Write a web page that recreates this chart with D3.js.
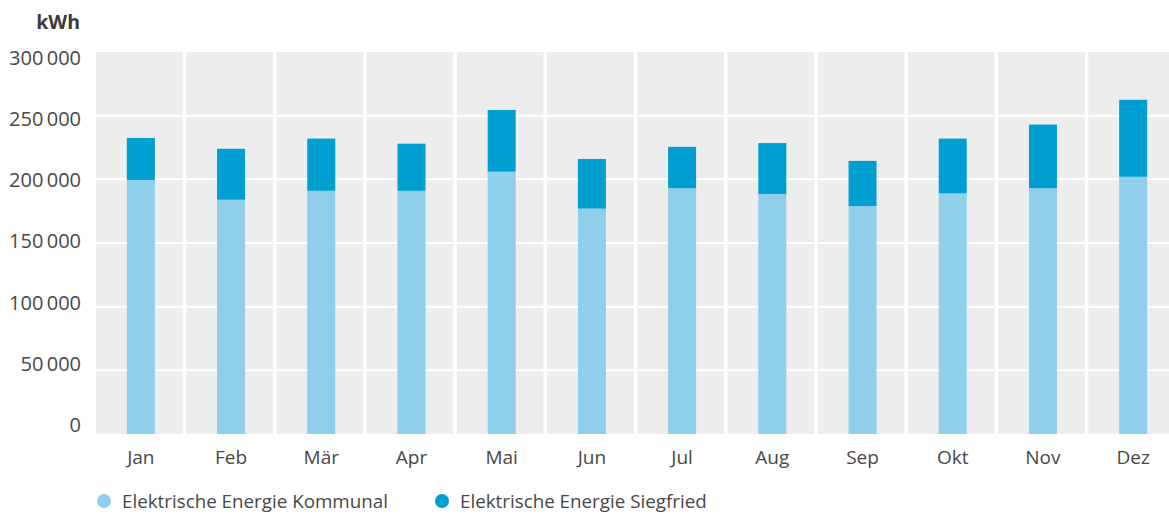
<!DOCTYPE html>
<html><head><meta charset="utf-8">
<script src="https://cdn.jsdelivr.net/npm/d3@7"></script>
<style>
body{margin:0;background:#fff;}
svg text{font-family:"Open Sans",sans-serif;fill:#474747;}
</style></head>
<body><svg id="c" width="1169" height="514"></svg>
<script>
const months = ["Jan","Feb","Mär","Apr","Mai","Jun","Jul","Aug","Sep","Okt","Nov","Dez"];
const kommunal = [199500,184000,191000,191000,206000,177000,193000,188500,179000,189000,193000,202000];
const siegfried = [33000,40000,41000,37000,48500,39000,32500,40000,35500,43000,50000,60500];
const yTicks = [0,50000,100000,150000,200000,250000,300000];
const seriesNames = ["Elektrische Energie Kommunal","Elektrische Energie Siegfried"];
const colors = ["#8fcfeb","#009fd1"];

const svg = d3.select("#c");
const L=96, R=1175, T=52, B=434;
const x = d3.scaleBand().domain(months).range([L,R]).paddingInner(0.039).paddingOuter(0);
const y = d3.scaleLinear().domain([0,300000]).range([B,T]);
const yLab = d3.scaleLinear().domain([0,300000]).range([B-9,T+5.5]);
const fmt = v => d3.format(",")(v).replace(/,/g,"\u2009");
const cx = d => x(d)+x.bandwidth()/2+1.5;

svg.append("g").selectAll("rect").data(months).join("rect")
  .attr("x",d=>x(d)).attr("y",T).attr("width",x.bandwidth()).attr("height",B-T)
  .attr("fill","#ededed");
svg.append("g").selectAll("line").data(yTicks.filter(t=>t>0 && t<300000)).join("line")
  .attr("x1",L).attr("x2",R).attr("y1",d=>y(d)).attr("y2",d=>y(d))
  .attr("stroke","#fff").attr("stroke-width",2);

const data = months.map((m,i)=>({m, k:kommunal[i], s:siegfried[i]}));
const stack = d3.stack().keys(["k","s"])(data);
const bw = 28;
svg.append("g").selectAll("g").data(stack).join("g")
  .attr("fill",(d,i)=>colors[i])
  .selectAll("rect").data(d=>d).join("rect")
  .attr("x",d=>cx(d.data.m)-bw/2)
  .attr("width",bw)
  .attr("y",d=>y(d[1])).attr("height",d=>y(d[0])-y(d[1]));

svg.append("g").selectAll("text").data(yTicks).join("text")
  .attr("x",81).attr("y",d=>yLab(d)+7).attr("text-anchor","end")
  .style("font-size","20px").text(fmt);
svg.append("text").attr("x",80).attr("y",29).attr("text-anchor","end")
  .style("font-size","19.5px").style("font-weight","700").style("fill","#3a3a3a").text("kWh");

svg.append("g").selectAll("text").data(months).join("text")
  .attr("x",d=>cx(d)).attr("y",464).attr("text-anchor","middle")
  .style("font-size","19px").text(d=>d);

const lg = svg.append("g").selectAll("g").data(seriesNames).join("g")
  .attr("transform",(d,i)=>`translate(${i===0?104:442},501)`);
lg.append("circle").attr("r",7).attr("fill",(d,i)=>colors[i]);
lg.append("text").attr("x",18).attr("y",6.5).style("font-size","18.8px").text(d=>d);
</script></body></html>
